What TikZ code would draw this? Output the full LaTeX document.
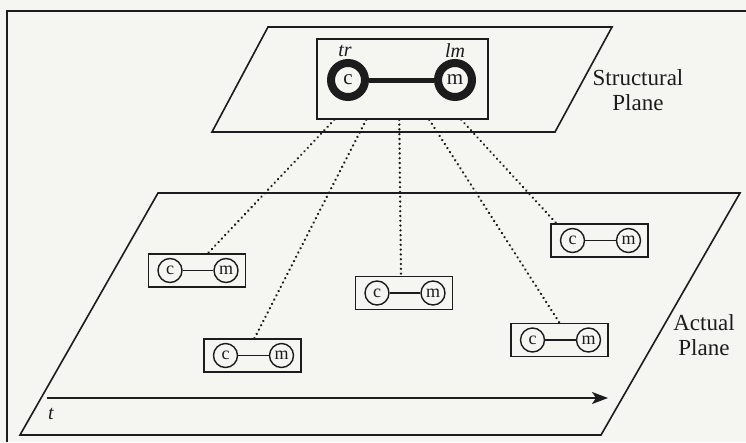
\documentclass[tikz,border=0pt]{standalone}
\usepackage{fontspec}
\setmainfont{Liberation Serif}
\usetikzlibrary{arrows.meta,calc}
\definecolor{paper}{RGB}{245,246,241}
\definecolor{ink}{RGB}{28,28,28}
\begin{document}
\begin{tikzpicture}[x=1pt,y=-1pt,
  every path/.style={ink},
  plane/.style={draw=ink,line width=1.6pt,line join=miter},
  sbox/.style={draw=ink,line width=1.5pt,minimum width=97pt,minimum height=33pt,inner sep=0pt},
  satom/.style={circle,draw=ink,line width=1.4pt,minimum size=24pt,inner sep=0pt,font=\fontsize{18}{18}\selectfont,text=ink},
  batom/.style={circle,draw=ink,line width=8pt,minimum size=34pt,inner sep=0pt,font=\fontsize{21}{21}\selectfont,text=ink},
  link/.style={draw=ink,line width=1.4pt},
  proj/.style={draw=ink,line width=2.6pt,line cap=round,dash pattern=on 0.01pt off 4.8pt},
  lbl/.style={text=ink,font=\fontsize{23}{25}\selectfont,align=center,inner sep=0pt},
  mol/.pic={
    \node[sbox] (-box) at (0,0) {};
    \node[satom] (-c) at (-27,0) {c};
    \node[satom] (-m) at (29,0) {m};
    \draw[link] (-c) -- (-m);
  }]
\fill[paper] (0,0) rectangle (746,442);
\useasboundingbox (0,0) rectangle (746,442);
% frame
\draw[line width=2pt] (7,442) -- (7,11) -- (746,11);
% structural plane
\draw[plane] (268,27) -- (612,27) -- (555,132) -- (212,132) -- cycle;
\node[draw=ink,line width=1.5pt,minimum width=171pt,minimum height=80pt,inner sep=0pt] (sb) at (402.5,79) {};
\node[batom] (bc) at (348,80) {c};
\node[batom] (bm) at (455,80) {m};
\draw[draw=ink,line width=5pt] (bc) -- (bm);
\node[text=ink,font=\fontsize{20}{20}\selectfont\itshape] (tr) at (345,51) {tr};
\node[text=ink,font=\fontsize{20}{20}\selectfont\itshape] (lm) at (455,51) {lm};
\node[lbl] (stxt) at (638,90) {Structural\\Plane};
% actual plane
\draw[plane] (158,193) -- (740,193) -- (601,435) -- (20,435) -- cycle;
\node[lbl] (atxt) at (704,335) {Actual\\Plane};
% time arrow
\coordinate (t0) at (47,398);
\coordinate (t1) at (608,398);
\draw[line width=1.8pt,-{Stealth[length=16pt,width=12pt,inset=4pt]}] (t0) -- (t1);
\node[text=ink,font=\fontsize{20}{20}\selectfont\itshape] (tl) at (51,414) {t};
% molecules
\pic (A) at (197,270.5) {mol};
\pic (B) at (252.5,355.5) {mol};
\pic (C) at (404,293) {mol};
\pic (D) at (559.5,340) {mol};
\pic (E) at (599.5,240.5) {mol};
% projections
\draw[proj] ($(sb.south west)+(18,0)$) -- ($(A-box.north)+(11,0)$);
\draw[proj] ($(sb.south west)+(50,0)$) -- ($(B-box.north)+(2,0)$);
\draw[proj] ($(sb.south west)+(83,0)$) -- ($(C-box.north)+(-3,0)$);
\draw[proj] ($(sb.south west)+(113,0)$) -- ($(D-box.north)+(0,0)$);
\draw[proj] ($(sb.south west)+(145,0)$) -- ($(E-box.north west)+(6,0)$);
\end{tikzpicture}
\end{document}
